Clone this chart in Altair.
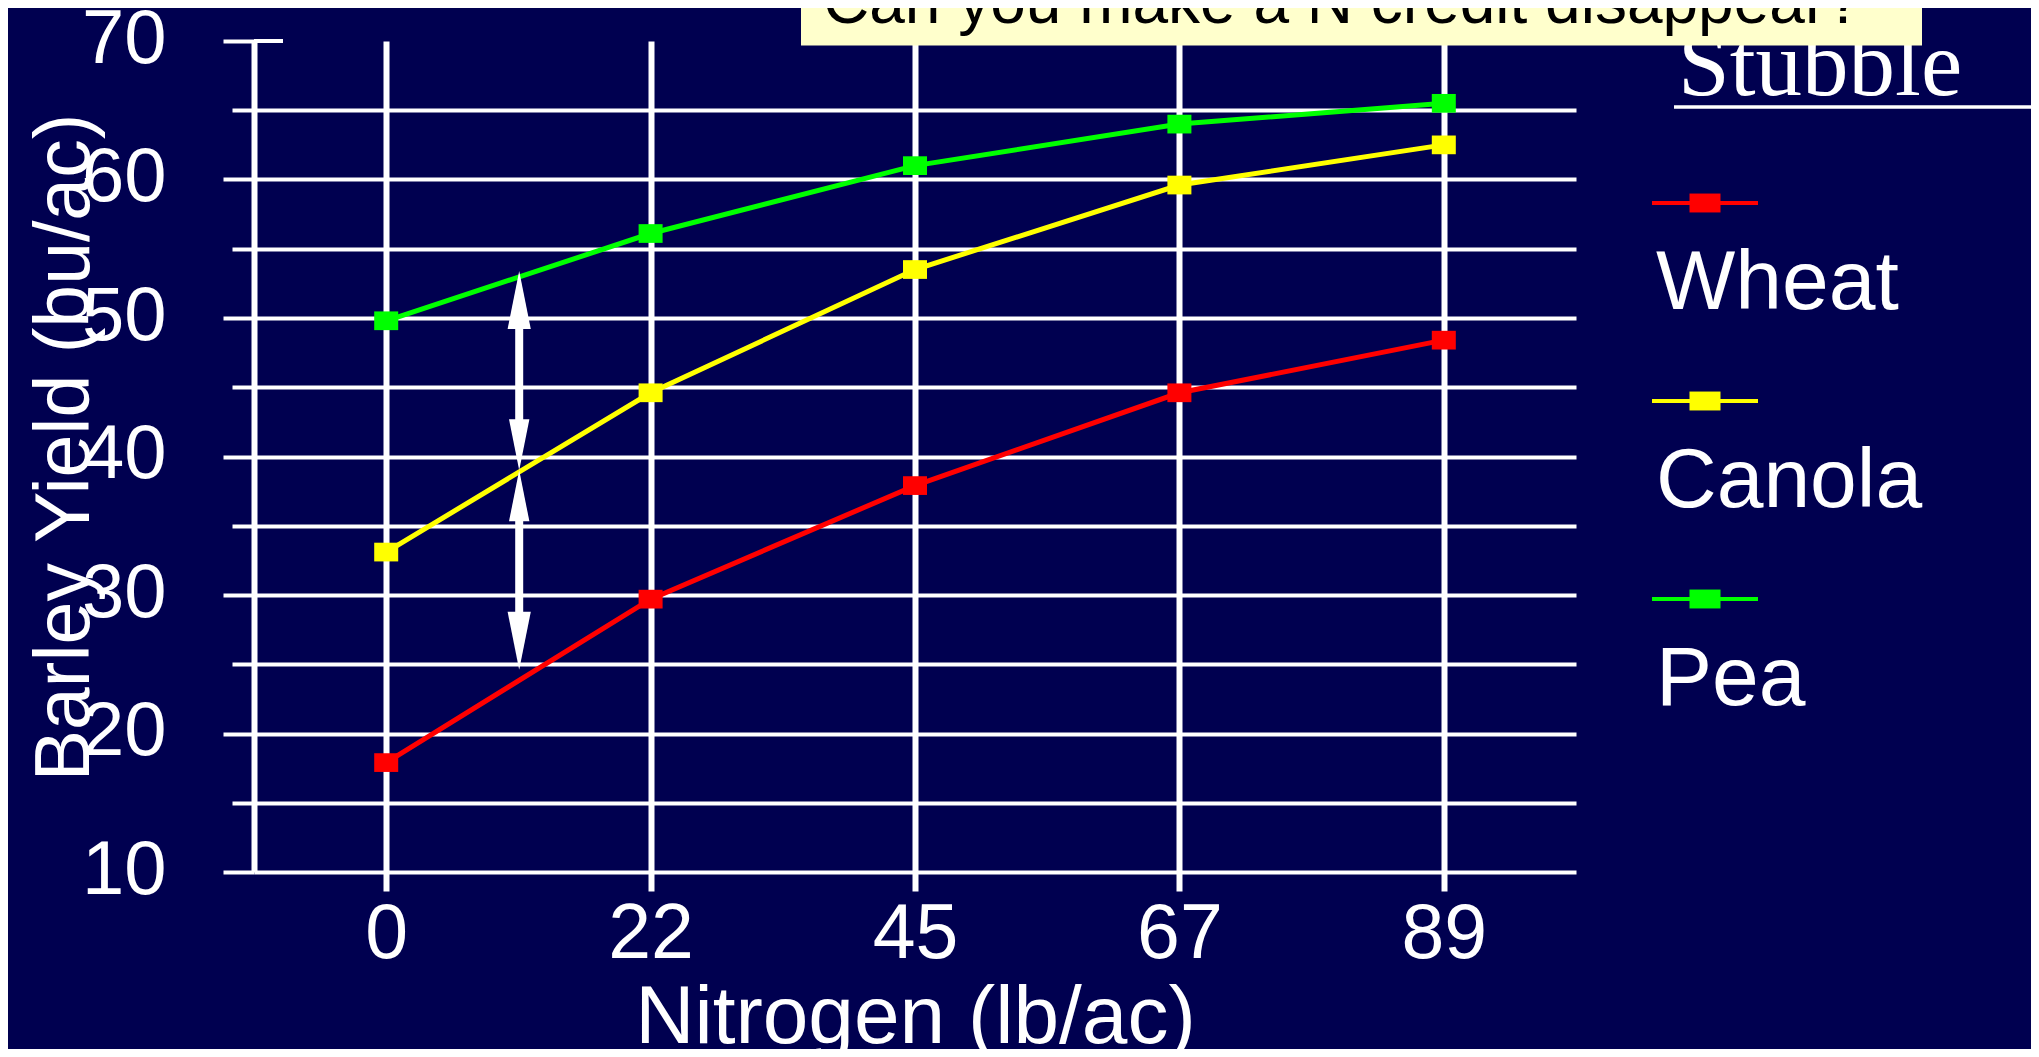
import altair as alt
import pandas as pd

# ---- data ----
nitrogen = [0, 22, 45, 67, 89]
series = ["Wheat", "Canola", "Pea"]
wheat = [17.9, 29.7, 37.9, 44.6, 48.4]
canola = [33.1, 44.6, 53.5, 59.6, 62.5]
pea = [49.8, 56.1, 61.0, 64.0, 65.5]
colors = ["#FF0000", "#FFFF00", "#00FF00"]
y_ticks = [10, 15, 20, 25, 30, 35, 40, 45, 50, 55, 60, 65, 70]

# double arrows at 11 lb/ac (between 0 and 22): (lower end, upper end)
arrow_low = [39.0, 24.6]
arrow_high = [53.4, 39.0]

title_text = "Can you make a N credit disappear?"
legend_title = "Stubble"
x_title = "Nitrogen (lb/ac)"
y_title = "Barley Yield (bu/ac)"

# ---- tables ----
rows = []
for name, vals in zip(series, [wheat, canola, pea]):
    for n, v in zip(nitrogen, vals):
        rows.append({"nitrogen": n, "yield": v, "stubble": name})
df = pd.DataFrame(rows)

arrows = pd.DataFrame({"nitrogen": [nitrogen[0]] * len(arrow_low),
                       "low": arrow_low, "high": arrow_high})
heads = pd.DataFrame({
    "nitrogen": [nitrogen[0]] * 4,
    "y": [arrow_high[0], arrow_low[0], arrow_high[1], arrow_low[1]],
    "dir": ["up", "down", "up", "down"],
    "kind": ["end", "mid", "mid", "end"],
})

NAVY = "#000050"
FONT = "Liberation Sans"
WIDTH, HEIGHT = 1322, 831

x_enc = alt.X(
    "nitrogen:O",
    sort=nitrogen,
    scale=alt.Scale(type="point", padding=0.5),
    axis=alt.Axis(
        grid=True, gridColor="white", gridWidth=6,
        ticks=True, tickSize=19, tickWidth=6, tickColor="white",
        domain=False,
        labelFont=FONT, labelFontSize=77, labelColor="white",
        labelPadding=5, labelAngle=0,
        title=x_title, titleFont=FONT, titleFontSize=82,
        titleFontWeight="normal", titleColor="white",
        titleY=170, titleBaseline="alphabetic",
    ),
)

y_enc = alt.Y(
    "yield:Q",
    scale=alt.Scale(domain=[10, 70], nice=False, zero=False),
    axis=alt.Axis(
        values=y_ticks,
        grid=True, gridColor="white", gridWidth=4,
        gridOpacity={"condition": {"test": "datum.value == 70", "value": 0}, "value": 1},
        tickSize={"condition": {"test": "datum.value % 10 == 0", "value": 31}, "value": 22},
        tickWidth=4, tickColor="white",
        domainColor="white", domainWidth=6,
        labelExpr="datum.value % 10 == 0 ? datum.label : ''",
        labelFont=FONT, labelFontSize=76, labelColor="white", labelPadding=57,
        labelOffset=-2,
        title=y_title, titleFont=FONT, titleFontSize=77,
        titleFontWeight="normal", titleColor="white",
        titleAngle=270, titleX=-166, titleY=406,
        titleBaseline="alphabetic", titleAlign="center",
    ),
)

color_enc = alt.Color("stubble:N", scale=alt.Scale(domain=series, range=colors), legend=None)

rect_marker = "M-1,-0.78H1V0.78H-1Z"

base = alt.Chart(df).encode(x=x_enc, y=y_enc, color=color_enc)
lines = base.mark_line(strokeWidth=5)
points = base.mark_point(shape=rect_marker, size=576, filled=True, opacity=1, strokeWidth=0)

# the top tick (70) also reaches a little into the plot, as in the slide
top_tick = alt.Chart(pd.DataFrame({"yield": [y_ticks[-1]]})).mark_rule(
    color="white", strokeWidth=4
).encode(y="yield:Q", x=alt.value(0), x2=alt.value(29))

shafts = alt.Chart(arrows).mark_rule(
    color="white", strokeWidth=8, xOffset=133, yOffset=50, y2Offset=-45
).encode(x=alt.X("nitrogen:O", sort=nitrogen), y="high:Q", y2="low:Q")

up_head = "M0,0L0.2,1L-0.2,1Z"
down_head = "M0,0L0.2,-1L-0.2,-1Z"
arrow_heads = alt.Chart(heads).mark_point(
    filled=True, opacity=1, strokeWidth=0, color="white", xOffset=133
).encode(
    x=alt.X("nitrogen:O", sort=nitrogen),
    y="y:Q",
    shape=alt.Shape("dir:N", scale=alt.Scale(domain=["up", "down"], range=[up_head, down_head]), legend=None),
    size=alt.Size("kind:N", scale=alt.Scale(domain=["end", "mid"], range=[13456, 10404]), legend=None),
)

# ---- hand-made legend ----
legend_layers = []
stub = pd.DataFrame({"t": [legend_title]})
legend_layers.append(
    alt.Chart(stub).mark_text(align="left", baseline="alphabetic", font="Liberation Serif",
                              fontSize=93, color="white")
    .encode(x=alt.value(1424), y=alt.value(54), text="t:N")
)
legend_layers.append(
    alt.Chart(stub).mark_rule(color="white", strokeWidth=3.5)
    .encode(x=alt.value(1420), x2=alt.value(1777), y=alt.value(66))
)
legend_square = "M-1,-0.61H1V0.61H-1Z"
for i, (name, col) in enumerate(zip(series, colors)):
    ly = 162 + i * 198
    d = pd.DataFrame({"stubble": [name]})
    legend_layers.append(
        alt.Chart(d).mark_rule(color=col, strokeWidth=4)
        .encode(x=alt.value(1398), x2=alt.value(1504), y=alt.value(ly))
    )
    legend_layers.append(
        alt.Chart(d).mark_point(shape=legend_square, size=961, filled=True, opacity=1,
                                strokeWidth=0, color=col)
        .encode(x=alt.value(1451), y=alt.value(ly))
    )
    legend_layers.append(
        alt.Chart(d).mark_text(align="left", baseline="alphabetic", font=FONT,
                               fontSize=84, color="white")
        .encode(x=alt.value(1402), y=alt.value(ly + 106), text="stubble:N")
    )

# ---- title box (drawn on top, as in the slide) ----
title_box = alt.Chart(pd.DataFrame({"t": [title_text]})).mark_rect(color="#FFFFCC").encode(
    x=alt.value(547), x2=alt.value(1668), y=alt.value(-45), y2=alt.value(4.5)
)
title_mark = alt.Chart(pd.DataFrame({"t": [title_text]})).mark_text(
    align="left", baseline="alphabetic", font=FONT, fontSize=64, color="black"
).encode(x=alt.value(569), y=alt.value(-18), text="t:N")

chart = alt.layer(
    top_tick, lines, points, shafts, arrow_heads, *legend_layers, title_box, title_mark
).properties(
    width=WIDTH, height=HEIGHT,
    padding={"left": 246, "top": 33, "right": 455, "bottom": 177},
    autosize=alt.AutoSizeParams(type="none"),
    background=NAVY,
).configure_view(strokeWidth=0)

chart.save("out.html", embed_options={"renderer": "svg", "actions": False})
